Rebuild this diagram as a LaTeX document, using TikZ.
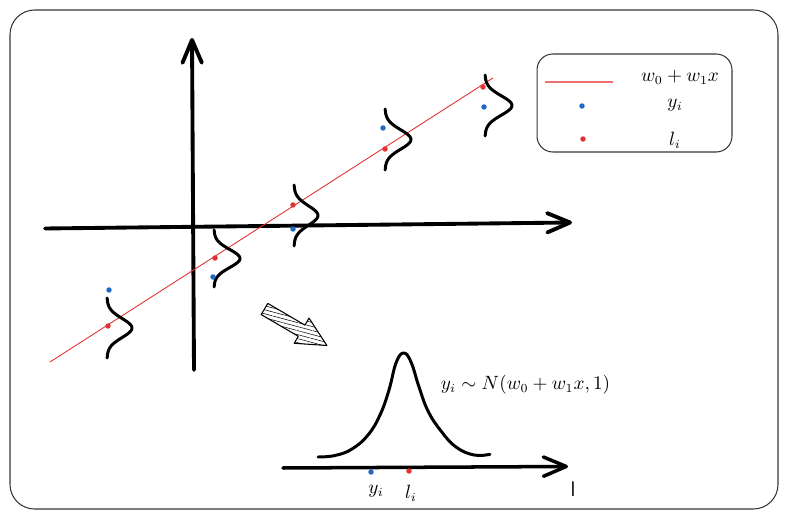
\documentclass[tikz,border=0pt]{standalone}
\usepackage{amsmath}
\usetikzlibrary{arrows.meta, patterns.meta}
\definecolor{ptblue}{RGB}{30,105,195}
\definecolor{ptred}{RGB}{228,48,48}
\definecolor{framegray}{RGB}{55,55,55}
\tikzset{
    axisline/.style={
        line width=2.2pt,
        line cap=round,
        -{Straight Barb[length=13pt, width=11pt, round]}
    },
    bellline/.style={line width=1.7pt, line cap=round, line join=round},
    fitline/.style={draw=ptred, line width=0.5pt},
    bdot/.style={circle, fill=ptblue, inner sep=0pt, minimum size=3.1pt},
    rdot/.style={circle, fill=ptred, inner sep=0pt, minimum size=3.1pt},
    every node/.style={font=\fontsize{10.7}{13}\selectfont}
}
\begin{document}
\begin{tikzpicture}[
    x=0.02cm,y=-0.02cm,
    outerbox/.style={
        draw=framegray,
        line width=0.6pt,
        rounded corners=14pt
    },
    legendbox/.style={
        draw=framegray,
        line width=0.6pt,
        rounded corners=9pt,
        minimum width=3.9cm,
        minimum height=1.96cm
    },
    hatcharrow/.style={
        draw,
        line width=0.6pt,
        line join=round,
        pattern={Lines[angle=-15, distance=2.2pt, line width=0.3pt]}
    },
    sidebell/.pic={
        \draw[bellline] plot[domain=-1:1, samples=41, smooth] ({exp(-5*\x*\x)}, {\x});
    }
]
\useasboundingbox (0,0) rectangle (787,519);

% frame
\draw[outerbox] (10,10) rectangle (778,509);

% axes
\coordinate (xl) at (45,228.5);
\coordinate (xr) at (572,222.5);
\coordinate (yb) at (194,370);
\coordinate (yt) at (192,38);
\draw[axisline] (xl) -- (xr);
\draw[axisline] (yb) -- (yt);

% fitted line
\coordinate (fs) at (50,362);
\coordinate (fe) at (493,78);
\draw[fitline] (fs) -- (fe);

% sideways bells along the line
\pic[xscale=25, yscale=30]   at (107,328)   {sidebell};
\pic[xscale=26, yscale=28.5] at (214,258.5) {sidebell};
\pic[xscale=24, yscale=30.5] at (294,215.5) {sidebell};
\pic[xscale=26, yscale=30.5] at (385,139.5) {sidebell};
\pic[xscale=27, yscale=30.5] at (485,105.5) {sidebell};

% points
\node[bdot] (y1) at (109,290) {};
\node[rdot] (l1) at (108,326) {};
\node[rdot] (l2) at (215,258) {};
\node[bdot] (y2) at (213,277) {};
\node[rdot] (l3) at (293,205) {};
\node[bdot] (y3) at (293,229) {};
\node[bdot] (y4) at (383,128) {};
\node[rdot] (l4) at (385,149) {};
\node[rdot] (l5) at (483,87) {};
\node[bdot] (y5) at (484,107) {};

% legend
\node[legendbox] (legend) at (634.5,103) {};
\coordinate (lg1) at (545,82);
\coordinate (lg2) at (613,82);
\draw[fitline, line width=0.8pt, draw=ptred!70] (lg1) -- (lg2);
\node (lgfit) at (680,77) {$w_0 + w_1 x$};
\node[bdot] (lgy) at (582,106) {};
\node (lgytext) at (675,105) {$y_i$};
\node[rdot] (lgl) at (583,139) {};
\node (lgltext) at (675,140) {$l_i$};

% hatched arrow
\draw[hatcharrow] (267.8,303.4) -- (304.9,325.1) -- (309.0,318.1) -- (326.9,345.5)
    -- (294.2,343.3) -- (298.3,336.3) -- (261.2,314.6) -- cycle;

% zoomed distribution
\draw[bellline] plot[smooth, tension=0.7] coordinates {
    (318,457) (335,455.5) (352,449) (368,435) (380,415)
    (389,390) (396,363) (403.5,353) (411,362) (419,387)
    (428,411) (441,431) (456,447) (474,455) (490,454.3)};
\coordinate (bl) at (283,468);
\coordinate (br) at (568,466.5);
\draw[axisline, line width=2pt] (bl) -- (br);
\node[bdot] (ybot) at (371,472) {};
\node[rdot] (lbot) at (409,471) {};
\node (ybottext) at (376,491) {$y_i$};
\node (lbottext) at (411,493) {$l_i$};
\node[font=\sffamily\large] (laxis) at (573,489) {l};
\node (dist) at (525.5,385) {$y_i \sim N(w_0 + w_1 x, 1)$};

\end{tikzpicture}
\end{document}
